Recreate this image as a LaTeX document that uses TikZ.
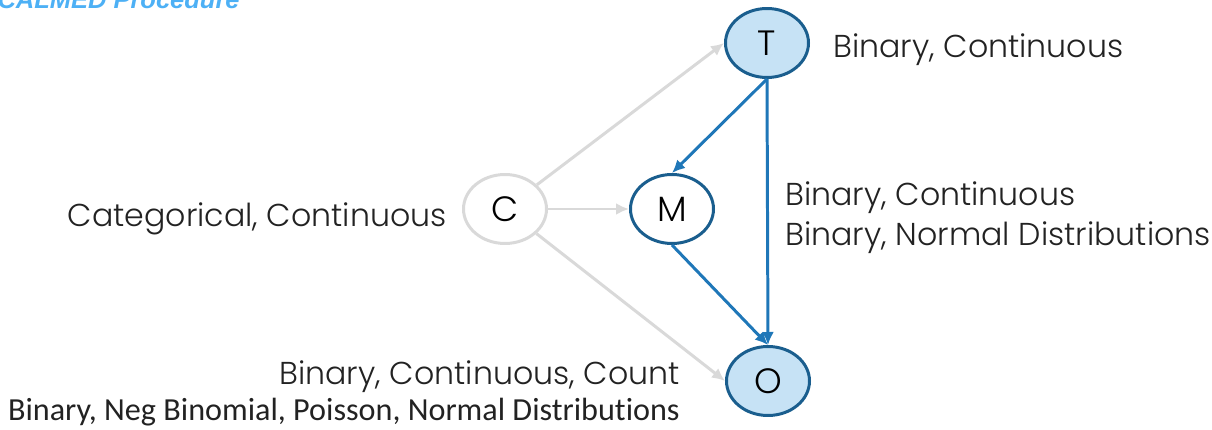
\documentclass[tikz,border=0pt]{standalone}
\usepackage{fontspec}
\setmainfont{Poppins}[UprightFont=* Light]
\newfontfamily\calibri{Carlito}[Ligatures=NoCommon]
\newfontfamily\arialf{Liberation Sans}
\usetikzlibrary{arrows.meta,shapes.geometric}

\definecolor{nodeblue}{RGB}{26,94,142}
\definecolor{nodefill}{RGB}{198,226,245}
\definecolor{arrowblue}{RGB}{31,119,184}
\definecolor{softgrey}{RGB}{217,217,217}
\definecolor{titleblue}{RGB}{77,176,245}
\definecolor{textgrey}{RGB}{34,34,34}

\tikzset{
  var/.style={ellipse, draw=nodeblue, fill=nodefill, line width=1.7pt,
    minimum width=1.66cm, minimum height=1.38cm, inner sep=0,
    text=black, font=\fontsize{20}{24}\selectfont},
  mvar/.style={var, fill=white},
  cvar/.style={var, draw=softgrey, fill=white},
  lab/.style={inner sep=0, text=textgrey, font=\fontsize{18}{21}\selectfont},
  greyarrow/.style={draw=softgrey, line width=1.7pt, -{Latex[length=0.26cm,width=0.24cm]}},
  bluearrow/.style={draw=arrowblue, line width=1.7pt, -{Latex[length=0.26cm,width=0.24cm]}}
}

\begin{document}
\begin{tikzpicture}
  \clip (0,0) rectangle (24.24,8.6);

  % heading, cut off at the top edge
  \node [inner sep=0, anchor=base east, text=titleblue,
         font=\arialf\bfseries\itshape\fontsize{14.5}{17}\selectfont] (title) at (4.8,8.42) {CALMED Procedure};

  % variables
  \node [var]  (T) at (15.34,7.74) {T};
  \node [cvar] (C) at (10.10,4.42) {C};
  \node [mvar] (M) at (13.44,4.42) {M};
  \node [var]  (O) at (15.36,0.98) {O};

  % covariate paths
  \draw [greyarrow] (C) -- (T.west);
  \draw [greyarrow] (C) -- (M);
  \draw [greyarrow] (C) -- (O.west);

  % mediation paths
  \draw [bluearrow] (T.south) -- (M.north);
  \draw [bluearrow] (T.south) -- (O.north);
  \draw [bluearrow] (M.south) -- (O.north);

  % variable types
  \node [lab, anchor=base west] (tlab) at (16.66,7.44) {Binary, Continuous};
  \node [lab, anchor=base east] (clab) at (8.94,4.06) {Categorical, Continuous};
  \node [lab, anchor=base west] (mlab) at (15.70,4.48) {Binary, Continuous};
  \node [lab, anchor=base west] (mdist) at (15.70,3.68) {Binary, Normal Distributions};
  \node [lab, anchor=base east] (olab) at (13.60,0.90) {Binary, Continuous, Count};
  \node [lab, anchor=base east, font=\calibri\fontsize{18.3}{21}\selectfont] (odist) at (13.60,0.20) {Binary, Neg Binomial, Poisson, Normal Distributions};
\end{tikzpicture}
\end{document}
